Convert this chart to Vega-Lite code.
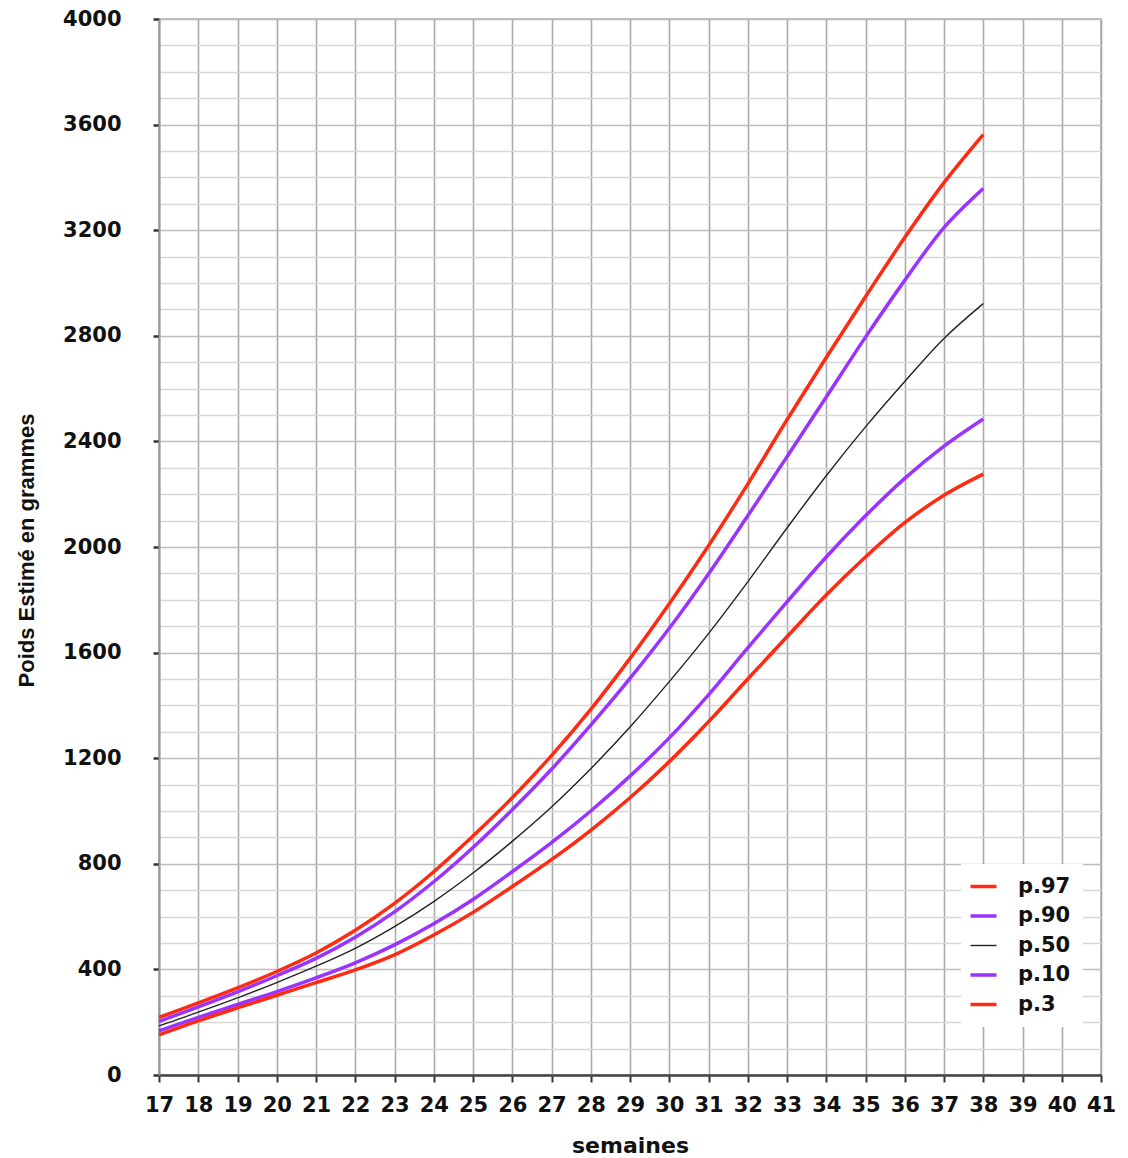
{
  "$schema": "https://vega.github.io/schema/vega-lite/v6.json",
  "autosize": "none",
  "width": 942,
  "height": 1056,
  "padding": {"left": 159, "top": 19, "right": 27, "bottom": 83},
  "background": "white",
  "config": {"view": {"stroke": "#aaaaaa", "strokeWidth": 1.5}, "font": "DejaVu Sans"},
  "data": {"values": [
    {"semaine": 17, "pct": "p.97", "poids": 218}, {"semaine": 18, "pct": "p.97", "poids": 273}, {"semaine": 19, "pct": "p.97", "poids": 330}, {"semaine": 20, "pct": "p.97", "poids": 392}, {"semaine": 21, "pct": "p.97", "poids": 462}, {"semaine": 22, "pct": "p.97", "poids": 548}, {"semaine": 23, "pct": "p.97", "poids": 650}, {"semaine": 24, "pct": "p.97", "poids": 770}, {"semaine": 25, "pct": "p.97", "poids": 905}, {"semaine": 26, "pct": "p.97", "poids": 1050}, {"semaine": 27, "pct": "p.97", "poids": 1210}, {"semaine": 28, "pct": "p.97", "poids": 1385}, {"semaine": 29, "pct": "p.97", "poids": 1578}, {"semaine": 30, "pct": "p.97", "poids": 1785}, {"semaine": 31, "pct": "p.97", "poids": 2005}, {"semaine": 32, "pct": "p.97", "poids": 2238}, {"semaine": 33, "pct": "p.97", "poids": 2482}, {"semaine": 34, "pct": "p.97", "poids": 2718}, {"semaine": 35, "pct": "p.97", "poids": 2948}, {"semaine": 36, "pct": "p.97", "poids": 3172}, {"semaine": 37, "pct": "p.97", "poids": 3380}, {"semaine": 38, "pct": "p.97", "poids": 3562},
    {"semaine": 17, "pct": "p.90", "poids": 203}, {"semaine": 18, "pct": "p.90", "poids": 258}, {"semaine": 19, "pct": "p.90", "poids": 315}, {"semaine": 20, "pct": "p.90", "poids": 376}, {"semaine": 21, "pct": "p.90", "poids": 442}, {"semaine": 22, "pct": "p.90", "poids": 522}, {"semaine": 23, "pct": "p.90", "poids": 618}, {"semaine": 24, "pct": "p.90", "poids": 732}, {"semaine": 25, "pct": "p.90", "poids": 862}, {"semaine": 26, "pct": "p.90", "poids": 1005}, {"semaine": 27, "pct": "p.90", "poids": 1158}, {"semaine": 28, "pct": "p.90", "poids": 1325}, {"semaine": 29, "pct": "p.90", "poids": 1502}, {"semaine": 30, "pct": "p.90", "poids": 1692}, {"semaine": 31, "pct": "p.90", "poids": 1898}, {"semaine": 32, "pct": "p.90", "poids": 2118}, {"semaine": 33, "pct": "p.90", "poids": 2342}, {"semaine": 34, "pct": "p.90", "poids": 2568}, {"semaine": 35, "pct": "p.90", "poids": 2795}, {"semaine": 36, "pct": "p.90", "poids": 3010}, {"semaine": 37, "pct": "p.90", "poids": 3210}, {"semaine": 38, "pct": "p.90", "poids": 3358},
    {"semaine": 17, "pct": "p.50", "poids": 186}, {"semaine": 18, "pct": "p.50", "poids": 238}, {"semaine": 19, "pct": "p.50", "poids": 292}, {"semaine": 20, "pct": "p.50", "poids": 350}, {"semaine": 21, "pct": "p.50", "poids": 412}, {"semaine": 22, "pct": "p.50", "poids": 480}, {"semaine": 23, "pct": "p.50", "poids": 562}, {"semaine": 24, "pct": "p.50", "poids": 657}, {"semaine": 25, "pct": "p.50", "poids": 765}, {"semaine": 26, "pct": "p.50", "poids": 885}, {"semaine": 27, "pct": "p.50", "poids": 1015}, {"semaine": 28, "pct": "p.50", "poids": 1160}, {"semaine": 29, "pct": "p.50", "poids": 1318}, {"semaine": 30, "pct": "p.50", "poids": 1490}, {"semaine": 31, "pct": "p.50", "poids": 1672}, {"semaine": 32, "pct": "p.50", "poids": 1868}, {"semaine": 33, "pct": "p.50", "poids": 2072}, {"semaine": 34, "pct": "p.50", "poids": 2270}, {"semaine": 35, "pct": "p.50", "poids": 2455}, {"semaine": 36, "pct": "p.50", "poids": 2627}, {"semaine": 37, "pct": "p.50", "poids": 2790}, {"semaine": 38, "pct": "p.50", "poids": 2922},
    {"semaine": 17, "pct": "p.10", "poids": 167}, {"semaine": 18, "pct": "p.10", "poids": 218}, {"semaine": 19, "pct": "p.10", "poids": 267}, {"semaine": 20, "pct": "p.10", "poids": 316}, {"semaine": 21, "pct": "p.10", "poids": 368}, {"semaine": 22, "pct": "p.10", "poids": 425}, {"semaine": 23, "pct": "p.10", "poids": 493}, {"semaine": 24, "pct": "p.10", "poids": 573}, {"semaine": 25, "pct": "p.10", "poids": 665}, {"semaine": 26, "pct": "p.10", "poids": 770}, {"semaine": 27, "pct": "p.10", "poids": 880}, {"semaine": 28, "pct": "p.10", "poids": 1000}, {"semaine": 29, "pct": "p.10", "poids": 1132}, {"semaine": 30, "pct": "p.10", "poids": 1277}, {"semaine": 31, "pct": "p.10", "poids": 1440}, {"semaine": 32, "pct": "p.10", "poids": 1618}, {"semaine": 33, "pct": "p.10", "poids": 1792}, {"semaine": 34, "pct": "p.10", "poids": 1962}, {"semaine": 35, "pct": "p.10", "poids": 2118}, {"semaine": 36, "pct": "p.10", "poids": 2260}, {"semaine": 37, "pct": "p.10", "poids": 2382}, {"semaine": 38, "pct": "p.10", "poids": 2485},
    {"semaine": 17, "pct": "p.3", "poids": 152}, {"semaine": 18, "pct": "p.3", "poids": 205}, {"semaine": 19, "pct": "p.3", "poids": 254}, {"semaine": 20, "pct": "p.3", "poids": 302}, {"semaine": 21, "pct": "p.3", "poids": 350}, {"semaine": 22, "pct": "p.3", "poids": 398}, {"semaine": 23, "pct": "p.3", "poids": 455}, {"semaine": 24, "pct": "p.3", "poids": 530}, {"semaine": 25, "pct": "p.3", "poids": 616}, {"semaine": 26, "pct": "p.3", "poids": 714}, {"semaine": 27, "pct": "p.3", "poids": 816}, {"semaine": 28, "pct": "p.3", "poids": 927}, {"semaine": 29, "pct": "p.3", "poids": 1050}, {"semaine": 30, "pct": "p.3", "poids": 1187}, {"semaine": 31, "pct": "p.3", "poids": 1338}, {"semaine": 32, "pct": "p.3", "poids": 1500}, {"semaine": 33, "pct": "p.3", "poids": 1660}, {"semaine": 34, "pct": "p.3", "poids": 1818}, {"semaine": 35, "pct": "p.3", "poids": 1962}, {"semaine": 36, "pct": "p.3", "poids": 2092}, {"semaine": 37, "pct": "p.3", "poids": 2196}, {"semaine": 38, "pct": "p.3", "poids": 2276}
  ]},
  "mark": {"type": "line", "interpolate": "catmull-rom"},
  "encoding": {
    "x": {
      "field": "semaine", "type": "quantitative",
      "scale": {"domain": [17, 41], "nice": false, "zero": false},
      "axis": {
        "values": [17,18,19,20,21,22,23,24,25,26,27,28,29,30,31,32,33,34,35,36,37,38,39,40,41],
        "format": "d",
        "labelOverlap": false, "labelFlush": false,
        "title": "semaines",
        "titleFont": "DejaVu Sans", "titleFontSize": 22, "titleFontWeight": "bold", "titleColor": "#111",
        "titleY": 70, "titleBaseline": "middle",
        "labelFont": "DejaVu Sans", "labelFontSize": 21, "labelFontWeight": "bold", "labelColor": "#111",
        "labelPadding": 12, "tickSize": 7, "tickColor": "#333", "tickWidth": 2,
        "domainColor": "#444", "domainWidth": 2.5,
        "grid": true, "gridColor": "#aaaaaa", "gridWidth": 1.6
      }
    },
    "y": {
      "field": "poids", "type": "quantitative",
      "scale": {"domain": [0, 4000], "nice": false},
      "axis": {
        "values": [0,100,200,300,400,500,600,700,800,900,1000,1100,1200,1300,1400,1500,1600,1700,1800,1900,2000,2100,2200,2300,2400,2500,2600,2700,2800,2900,3000,3100,3200,3300,3400,3500,3600,3700,3800,3900,4000],
        "labelExpr": "datum.value % 400 === 0 ? '' + datum.value : ''",
        "labelOverlap": false,
        "title": "Poids Estimé en grammes",
        "titleFont": "Liberation Sans", "titleFontSize": 22, "titleFontWeight": "bold", "titleColor": "#111",
        "titleX": -133, "titleY": 531, "titleAngle": 270, "titleAlign": "center", "titleBaseline": "middle",
        "labelFont": "DejaVu Sans", "labelFontSize": 21, "labelFontWeight": "bold", "labelColor": "#111",
        "labelPadding": 32, "tickSize": 6, "tickWidth": 2.5, "tickColor": "#333",
        "tickOpacity": {"condition": {"test": "datum.value % 400 === 0", "value": 1}, "value": 0},
        "domainColor": "#999999", "domainWidth": 2,
        "grid": true, "gridWidth": 1.6,
        "gridColor": {"condition": {"test": "datum.value % 400 === 0", "value": "#bdbdbd"}, "value": "#d6d6d6"}
      }
    },
    "color": {
      "field": "pct", "type": "nominal",
      "scale": {"domain": ["p.97", "p.90", "p.50", "p.10", "p.3"], "range": ["#ff2a12", "#9a33ff", "#222222", "#9a33ff", "#ff2a12"]},
      "legend": {"orient": "none", "legendX": 802, "legendY": 845, "title": null, "symbolType": "stroke", "symbolSize": 676,
        "labelFont": "DejaVu Sans", "labelFontSize": 21, "labelFontWeight": "bold", "labelColor": "#111", "labelOffset": 24,
        "fillColor": "white", "padding": 12, "rowPadding": 7.5,
        "encode": {"symbols": {"update": {"strokeWidth": {"signal": "datum.value === 'p.50' ? 1.4 : 3.5"}}}}}
    },
    "strokeWidth": {
      "condition": {"test": "datum.pct === 'p.50'", "value": 1.4},
      "value": 3.5
    }
  }
}
